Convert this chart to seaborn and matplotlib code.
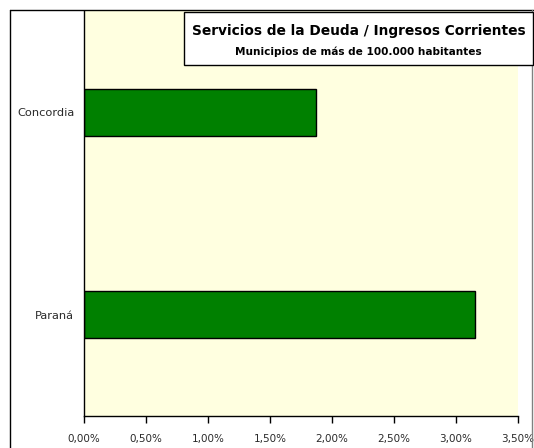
import pandas as pd
import seaborn as sns
import matplotlib.pyplot as plt
from matplotlib.patches import Rectangle
from matplotlib.lines import Line2D
from matplotlib.ticker import FuncFormatter

# Data
municipios = ['Concordia', 'Paraná']
servicio_deuda_pct = [1.87, 3.15]
x_ticks = [0, 0.5, 1.0, 1.5, 2.0, 2.5, 3.0, 3.5]

titulo = 'Servicios de la Deuda / Ingresos Corrientes'
subtitulo = 'Municipios de más de 100.000 habitantes'

df = pd.DataFrame({'municipio': municipios, 'valor': servicio_deuda_pct})

sns.set_style('white')
plt.rcParams['font.family'] = ['DejaVu Sans']

W, H = 534, 448
fig = plt.figure(figsize=(W / 100, H / 100), dpi=100)
fig.patch.set_facecolor('white')

# plot area in pixel positions
left, right, top, bottom = 84, 518, 11, 416
ax = fig.add_axes([left / W, 1 - bottom / H, (right - left) / W, (bottom - top) / H])
ax.set_facecolor('#FFFFE0')

sns.barplot(data=df, x='valor', y='municipio', order=municipios, orient='h',
            color='#008000', edgecolor='black', linewidth=1.0, width=0.23,
            saturation=1, ax=ax)

ax.set_xlim(0, 3.5)
ax.set_xticks(x_ticks)
ax.xaxis.set_major_formatter(FuncFormatter(lambda v, p: f'{v:.2f}%'.replace('.', ',')))
ax.set_xlabel('')
ax.set_ylabel('')

for s in ['top', 'right']:
    ax.spines[s].set_visible(False)
for s in ['left', 'bottom']:
    ax.spines[s].set_color('black')
    ax.spines[s].set_linewidth(1.0)

ax.tick_params(axis='x', direction='out', length=5, width=1, color='black',
               labelsize=7.5, labelcolor='#2a2a2a', pad=8, bottom=True)
ax.tick_params(axis='y', length=0, labelsize=8.2, labelcolor='#2a2a2a', pad=7)

# title box
fig.patches.append(Rectangle((184 / W, 1 - 65 / H), 349 / W, 53 / H,
                             transform=fig.transFigure, facecolor='white',
                             edgecolor='black', linewidth=1.0, zorder=5))
fig.text(358.5 / W, 1 - 31 / H, titulo, ha='center', va='center',
         fontsize=9.9, fontweight='bold', color='black', zorder=6)
fig.text(358.5 / W, 1 - 52 / H, subtitulo, ha='center', va='center',
         fontsize=7.6, fontweight='bold', color='black', zorder=6)

# chart border
fig.lines.append(Line2D([10 / W, 10 / W], [0, 1 - 10 / H], transform=fig.transFigure,
                        color='black', linewidth=1.0))
fig.lines.append(Line2D([10 / W, 1], [1 - 10 / H, 1 - 10 / H], transform=fig.transFigure,
                        color='black', linewidth=1.0))
fig.lines.append(Line2D([532 / W, 532 / W], [0, 1 - 10 / H], transform=fig.transFigure,
                        color='#808080', linewidth=1.0))

fig.savefig('out.png', dpi=100)
